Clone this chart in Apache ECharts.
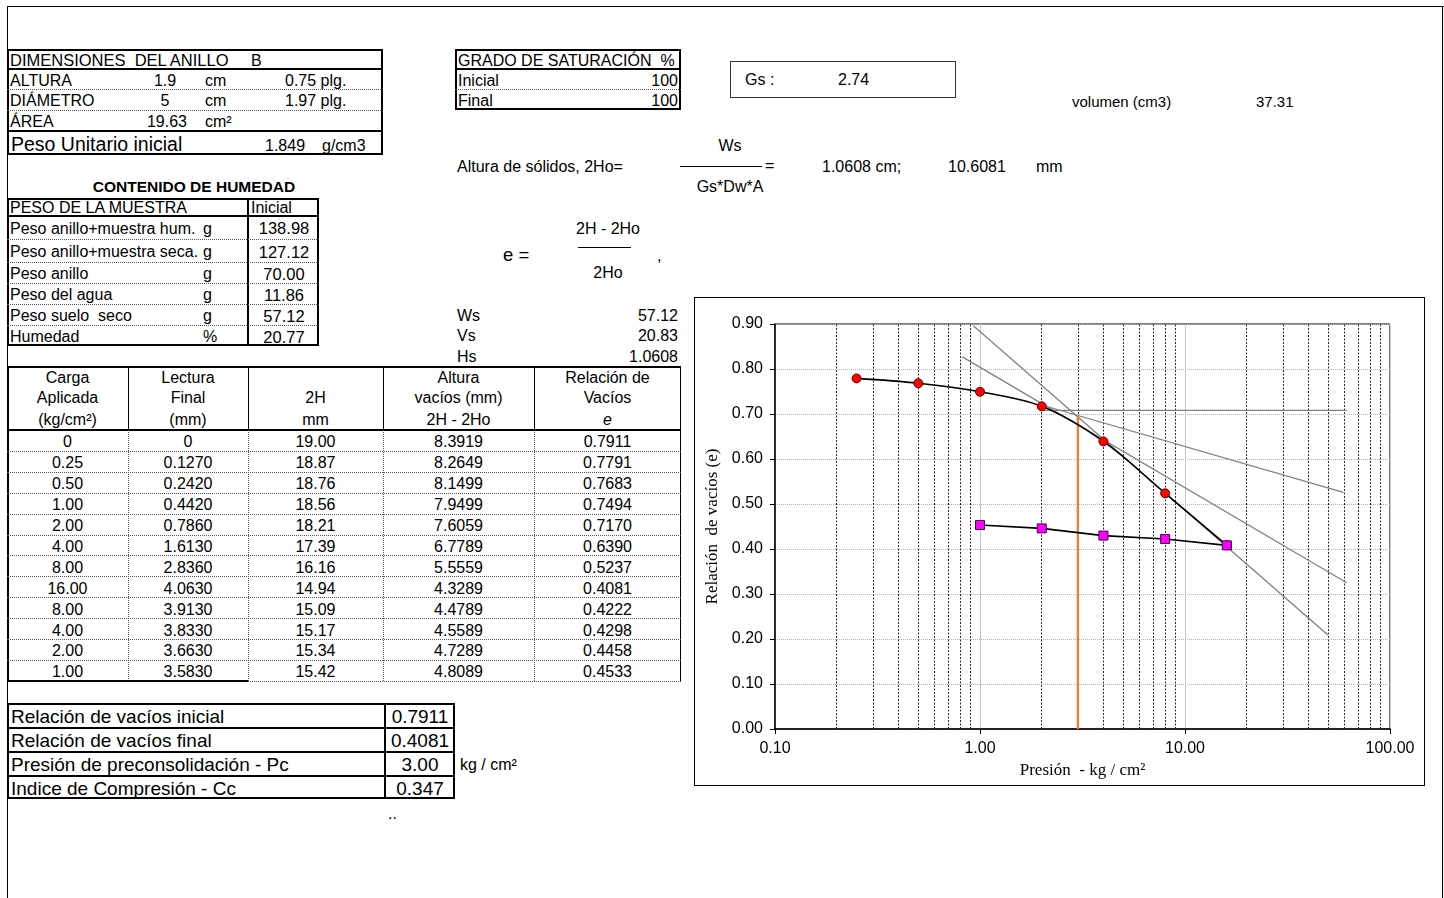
<!DOCTYPE html>
<html><head><meta charset="utf-8">
<script src="https://cdn.jsdelivr.net/npm/echarts@6/dist/echarts.min.js"></script>
<style>
html,body{margin:0;padding:0;background:#fff;}
body{width:1444px;height:898px;position:relative;overflow:hidden;font-family:"Liberation Sans",Arial,sans-serif;color:#000;}
.t{position:absolute;white-space:pre;}
.l{position:absolute;}
</style></head>
<body>
<div id="sheet"></div>
<div id="chartBox" style="position:absolute;left:694px;top:297px;width:729px;height:487px;border:1.5px solid #000;"></div>
<div id="chart" style="position:absolute;left:695px;top:298px;width:730px;height:488px;"></div>
<script>
// ---------- DATA ----------
const ringHeader = ['DIMENSIONES  DEL ANILLO', 'B'];
const ringLabels = ['ALTURA', 'DIÁMETRO', 'ÁREA'];
const ringValues = ['1.9', '5', '19.63'];
const ringUnits = ['cm', 'cm', 'cm²'];
const ringInches = ['0.75 plg.', '1.97 plg.', ''];
const unitWeight = ['Peso Unitario inicial', '1.849', 'g/cm3'];

const humTitle = 'CONTENIDO DE HUMEDAD';
const humHeader = ['PESO DE LA MUESTRA', 'Inicial'];
const humLabels = ['Peso anillo+muestra hum.', 'Peso anillo+muestra seca.', 'Peso anillo', 'Peso del agua', 'Peso suelo  seco', 'Humedad'];
const humUnits = ['g', 'g', 'g', 'g', 'g', '%'];
const humValues = ['138.98', '127.12', '70.00', '11.86', '57.12', '20.77'];

const satHeader = 'GRADO DE SATURACIÓN  %';
const satLabels = ['Inicial', 'Final'];
const satValues = ['100', '100'];

const gsText = ['Gs :', '2.74'];
const volText = ['volumen (cm3)', '37.31'];
const solidsText = ['Altura de sólidos, 2Ho=', 'Ws', 'Gs*Dw*A', '=', '1.0608 cm;', '10.6081', 'mm'];
const eFormula = ['e =', '2H - 2Ho', '2Ho', ','];
const wvhLabels = ['Ws', 'Vs', 'Hs'];
const wvhValues = ['57.12', '20.83', '1.0608'];

const tableHeads = [
  ['Carga', 'Aplicada', '(kg/cm²)'],
  ['Lectura', 'Final', '(mm)'],
  ['', '2H', 'mm'],
  ['Altura', 'vacíos (mm)', '2H - 2Ho'],
  ['Relación de', 'Vacíos', 'e']
];
const loadCol = ['0', '0.25', '0.50', '1.00', '2.00', '4.00', '8.00', '16.00', '8.00', '4.00', '2.00', '1.00'];
const readCol = ['0', '0.1270', '0.2420', '0.4420', '0.7860', '1.6130', '2.8360', '4.0630', '3.9130', '3.8330', '3.6630', '3.5830'];
const h2Col = ['19.00', '18.87', '18.76', '18.56', '18.21', '17.39', '16.16', '14.94', '15.09', '15.17', '15.34', '15.42'];
const voidCol = ['8.3919', '8.2649', '8.1499', '7.9499', '7.6059', '6.7789', '5.5559', '4.3289', '4.4789', '4.5589', '4.7289', '4.8089'];
const eCol = ['0.7911', '0.7791', '0.7683', '0.7494', '0.7170', '0.6390', '0.5237', '0.4081', '0.4222', '0.4298', '0.4458', '0.4533'];

const summaryLabels = ['Relación de vacíos inicial', 'Relación de vacíos final', 'Presión de preconsolidación - Pc', 'Indice de Compresión - Cc'];
const summaryValues = ['0.7911', '0.4081', '3.00', '0.347'];
const summaryUnit = 'kg / cm²';

// chart data
const loadP = [0.25, 0.5, 1, 2, 4, 8, 16];
const loadE = [0.7791, 0.7683, 0.7494, 0.7170, 0.6390, 0.5237, 0.4081];
const unloadP = [16, 8, 4, 2, 1];
const unloadE = [0.4081, 0.4222, 0.4298, 0.4458, 0.4533];
const horizLine = [[2, 0.708], [61.5, 0.708]];
const tangentLine = [[0.82, 0.827], [61.5, 0.325]];
const bisectorLine = [[2, 0.72], [59.2, 0.526]];
const virginLine = [[0.928, 0.896], [49.8, 0.209]];
const pcLine = [[3, 0], [3, 0.695]];
const minorGridX = [0.2, 0.3, 0.4, 0.5, 0.6, 0.7, 0.8, 0.9, 2, 3, 4, 5, 6, 7, 8, 9, 20, 30, 40, 50, 60, 70, 80, 90];
const xTickLabels = ['0.10', '1.00', '10.00', '100.00'];
const yTickLabels = ['0.00', '0.10', '0.20', '0.30', '0.40', '0.50', '0.60', '0.70', '0.80', '0.90'];

// ---------- SHEET ----------
const sheet = document.getElementById('sheet');
function el(css, cls, text) {
  const d = document.createElement('div');
  d.className = cls;
  d.style.cssText = css;
  if (text !== undefined) d.textContent = text;
  sheet.appendChild(d);
  return d;
}
function box(x1, y1, x2, y2, b) {
  el(`left:${x1}px;top:${y1}px;width:${x2 - x1}px;height:${y2 - y1}px;border:${b};box-sizing:border-box;`, 'l');
}
function hl(x1, x2, y, b) { el(`left:${x1}px;top:${y}px;width:${x2 - x1}px;height:0;border-top:${b};`, 'l'); }
function vl(x, y1, y2, b) { el(`left:${x}px;top:${y1}px;width:0;height:${y2 - y1}px;border-left:${b};`, 'l'); }
function tx(x, y, s, o) {
  o = o || {};
  const size = o.size || 16;
  const h = Math.round(size * 1.25);
  let left = x, w = 600, align = 'left';
  if (o.align === 'center') { left = x - 300; align = 'center'; }
  if (o.align === 'right') { left = x - 600; align = 'right'; }
  el(`left:${left}px;top:${y - h / 2}px;width:${w}px;height:${h}px;line-height:${h}px;font-size:${size}px;text-align:${align};` +
     (o.bold ? 'font-weight:bold;' : '') + (o.italic ? 'font-style:italic;' : '') + (o.font ? `font-family:${o.font};` : ''), 't', s);
}
const SOLID = '1px solid #000', THICK = '2px solid #000', DOT = '1px dotted #555';

// sheet frame
hl(7, 1444, 6, SOLID); vl(7, 6, 898, SOLID); vl(1442, 6, 898, SOLID);

// Table 1: ring dimensions
box(7, 49, 383, 155, THICK);
hl(7, 383, 68, THICK); hl(7, 383, 89, DOT); hl(7, 383, 110, DOT); hl(7, 383, 130, THICK);
tx(10, 60.5, ringHeader[0], { size: 16.5 }); tx(251, 60.5, ringHeader[1]);
const ringY = [80.5, 101, 121.5];
ringLabels.forEach((s, i) => {
  tx(10, ringY[i], s);
  if (i < 2) tx(165, ringY[i], ringValues[i], { align: 'center' }); else tx(187, ringY[i], ringValues[i], { align: 'right' });
  tx(205, ringY[i], ringUnits[i]);
  if (ringInches[i]) tx(285, ringY[i], ringInches[i]);
});
tx(11, 144, unitWeight[0], { size: 19.5 }); tx(265, 146, unitWeight[1]); tx(322, 146, unitWeight[2]);

// Table 2: moisture
tx(194, 186, humTitle, { align: 'center', bold: true, size: 15.5 });
box(7, 198, 319, 346, THICK);
vl(247, 198, 346, THICK);
hl(7, 319, 215, THICK);
const humBounds = [215, 239, 262, 283, 304, 325, 346];
for (let i = 1; i < humBounds.length - 1; i++) hl(7, 319, humBounds[i], DOT);
tx(10, 208, humHeader[0]); tx(251, 208, humHeader[1]);
humLabels.forEach((s, i) => {
  const y = (humBounds[i] + humBounds[i + 1]) / 2 + 1.5;
  tx(10, y, s); tx(203, y, humUnits[i]); tx(284, y, humValues[i], { align: 'center', size: 16.5 });
});

// Saturation table
box(455, 49, 681, 110, THICK);
hl(455, 681, 68, THICK); hl(455, 681, 89, DOT);
tx(458, 60.5, satHeader);
tx(458, 80.5, satLabels[0]); tx(678, 80.5, satValues[0], { align: 'right' });
tx(458, 101, satLabels[1]); tx(678, 101, satValues[1], { align: 'right' });

// Gs box
box(730, 61, 956, 98, '1px solid #333');
tx(745, 80, gsText[0]); tx(838, 80, gsText[1]);
tx(1072, 101, volText[0], { size: 15 }); tx(1256, 101, volText[1], { size: 15 });

// solids height formula
tx(457, 167, solidsText[0]);
tx(730, 146, solidsText[1], { align: 'center' });
hl(680, 762, 166, SOLID);
tx(765, 166, solidsText[3]);
tx(730, 187, solidsText[2], { align: 'center' });
tx(822, 167, solidsText[4]); tx(948, 167, solidsText[5]); tx(1036, 167, solidsText[6]);

// e formula
tx(503, 254, eFormula[0], { size: 18.5 });
tx(608, 229, eFormula[1], { align: 'center' });
hl(578, 631, 247, SOLID);
tx(608, 273, eFormula[2], { align: 'center' });
tx(657, 256, eFormula[3]);

wvhLabels.forEach((s, i) => {
  const y = 315.5 + i * 20.5;
  tx(457, y, s); tx(678, y, wvhValues[i], { align: 'right' });
});

// Main data table
const colX = [7, 128, 248, 383, 534, 681];
hl(7, 681, 366, THICK);
vl(680, 367, 681, SOLID);
vl(7, 367, 681, THICK);
for (let c = 1; c < 5; c++) { vl(colX[c], 367, 430, SOLID); vl(colX[c], 430, 681, DOT); }
hl(7, 681, 429, THICK);
tableHeads.forEach((lines, c) => {
  const cx = (colX[c] + colX[c + 1]) / 2;
  lines.forEach((s, r) => { if (s) tx(cx, [377.5, 397.5, 419.5][r], s, { align: 'center', size: 16, italic: (c === 4 && r === 2) }); });
});
const rowH = 20.9;
const cols = [loadCol, readCol, h2Col, voidCol, eCol];
for (let r = 0; r < 12; r++) {
  const top = 430 + r * rowH;
  if (r > 0) hl(7, 681, Math.round(top), DOT);
  const cy = top + rowH / 2 + 2;
  cols.forEach((col, c) => tx((colX[c] + colX[c + 1]) / 2, cy, col[r], { align: 'center', size: 16 }));
}
hl(7, 248, 680, THICK); hl(248, 681, 681, DOT);

// Summary table
box(7, 703, 455, 799, THICK);
vl(384, 703, 799, THICK);
[727, 751, 775].forEach(y => hl(7, 455, y, THICK));
summaryLabels.forEach((s, i) => {
  const y = 716.5 + i * 24.2;
  tx(11, y, s, { size: 19 });
  tx(420, y, summaryValues[i], { align: 'center', size: 19 });
});
tx(460, 764.5, summaryUnit);
tx(388, 814, '..');

// ---------- CHART ----------
const chart = echarts.init(document.getElementById('chart'), null, { renderer: 'canvas' });
const greyStyle = { color: '#808080', width: 1.3 };
function seg(name, data, style, z) {
  return { name, type: 'line', data, symbol: 'none', lineStyle: style, itemStyle: { color: style.color }, z, silent: true };
}
const option = {
  animation: false,
  grid: { left: 80, top: 26, width: 615, height: 405, show: true, borderColor: '#000', borderWidth: 1, backgroundColor: 'transparent' },
  xAxis: {
    type: 'log', logBase: 10, min: 0.1, max: 100,
    name: 'Presión  - kg / cm²', nameLocation: 'middle', nameGap: 30,
    nameTextStyle: { fontFamily: '"Liberation Serif", "Times New Roman", serif', fontSize: 17, color: '#000' },
    axisLine: { onZero: false, lineStyle: { color: '#000', width: 1.5 } },
    axisTick: { show: true, length: 5, lineStyle: { color: '#000' } },
    axisLabel: { fontFamily: '"Liberation Sans", Arial', fontSize: 16, color: '#000', margin: 12,
      formatter: v => xTickLabels[Math.round(Math.log10(v)) + 1] },
    splitLine: { show: true, lineStyle: { color: '#c8c8c8', width: 1 } }
  },
  yAxis: {
    type: 'value', min: 0, max: 0.9, interval: 0.1,
    name: 'Relación  de vacíos (e)', nameLocation: 'middle', nameGap: 54, nameRotate: 90,
    nameTextStyle: { fontFamily: '"Liberation Serif", "Times New Roman", serif', fontSize: 17, color: '#000' },
    axisLine: { show: true, lineStyle: { color: '#000', width: 1.5 } },
    axisTick: { show: true, length: 5, lineStyle: { color: '#000' } },
    axisLabel: { fontFamily: '"Liberation Sans", Arial', fontSize: 16, color: '#000', margin: 12,
      formatter: v => yTickLabels[Math.round(v * 10)] },
    splitLine: { show: true, lineStyle: { color: '#b4b4b4', type: 'dotted', width: 1 } }
  },
  series: [
    {
      name: 'minorGrid', type: 'line', data: [], z: 1, silent: true,
      markLine: {
        silent: true, symbol: 'none', label: { show: false }, z: 1,
        lineStyle: { color: '#2a2a2a', type: [2, 1.5], width: 1 },
        data: minorGridX.map(v => ({ xAxis: v }))
      }
    },
    seg('horizontal', horizLine, greyStyle, 2),
    seg('tangent', tangentLine, greyStyle, 2),
    seg('bisector', bisectorLine, greyStyle, 2),
    seg('virgin', virginLine, greyStyle, 2),
    seg('pc', pcLine, { color: '#F47E2E', width: 2.2 }, 4),
    {
      name: 'carga', type: 'line', smooth: 0.35, z: 5,
      data: loadP.map((p, i) => [p, loadE[i]]),
      lineStyle: { color: '#000', width: 1.6 },
      symbol: 'circle', symbolSize: 9,
      itemStyle: { color: '#FF0000', borderColor: '#600000', borderWidth: 1 }
    },
    {
      name: 'descarga', type: 'line', z: 5,
      data: unloadP.map((p, i) => [p, unloadE[i]]),
      lineStyle: { color: '#000', width: 1.6 },
      symbol: 'rect', symbolSize: 9,
      itemStyle: { color: '#FF00FF', borderColor: '#400040', borderWidth: 1 }
    }
  ]
};
chart.setOption(option);
</script>
</body></html>
